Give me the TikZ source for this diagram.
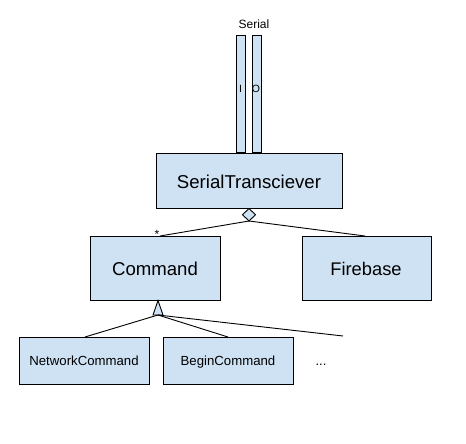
\documentclass[tikz,border=0pt]{standalone}
\usepackage{fontspec}
\setmainfont{Liberation Sans}
\definecolor{boxblue}{HTML}{CFE2F3}
\begin{document}
\begin{tikzpicture}[x=1pt,y=-1pt,
  box/.style={draw=black,fill=boxblue,line width=0.9pt},
  lbl/.style={inner sep=0pt,anchor=base,font=\fontsize{#1}{#1}\selectfont},
  conn/.style={draw=black,line width=0.9pt}]
\useasboundingbox (0,0) rectangle (466,444);
% serial bars
\draw[box] (236,35) rectangle (245,152);
\draw[box] (252,35) rectangle (261,152);
\node[lbl=12] (serial) at (254,29) {Serial};
\node[lbl=10.5] (ilbl) at (240.5,92.5) {I};
\node[lbl=10.5] (olbl) at (256,92.5) {O};
% main boxes
\draw[box] (156,153) rectangle (342,208);
\node[lbl=18.6] (st) at (249,188) {SerialTransciever};
\draw[box] (90,236) rectangle (220,300);
\node[lbl=18.6] (cmd) at (155,275.5) {Command};
\draw[box] (302,236) rectangle (431,300);
\node[lbl=18.3] (fb) at (366,275.5) {Firebase};
\draw[box] (19,337) rectangle (149,384);
\node[lbl=13.2] (nc) at (84,365.5) {NetworkCommand};
\draw[box] (163,337) rectangle (293,384);
\node[lbl=13.2] (bc) at (228,365.5) {BeginCommand};
\node[lbl=13] (dots) at (321,365) {...};
% aggregation
\coordinate (dtop) at (249,208.5);
\coordinate (dbot) at (249,221);
\draw[box] (dtop) -- (255.5,214.75) -- (dbot) -- (242.5,214.75) -- cycle;
\coordinate (cmdtop) at (160,236);
\coordinate (fbtop) at (365,236);
\draw[conn] (dbot) -- (cmdtop);
\draw[conn] (dbot) -- (fbtop);
\node[lbl=12] (star) at (157,238) {*};
% inheritance
\coordinate (ttip) at (158,300.5);
\coordinate (tbase) at (158,315);
\draw[box] (ttip) -- (163,315) -- (153,315) -- cycle;
\coordinate (nctop) at (85,337);
\coordinate (bctop) at (228,337);
\coordinate (free) at (343,336);
\draw[conn] (tbase) -- (nctop);
\draw[conn] (tbase) -- (bctop);
\draw[conn] (tbase) -- (free);
\end{tikzpicture}
\end{document}
